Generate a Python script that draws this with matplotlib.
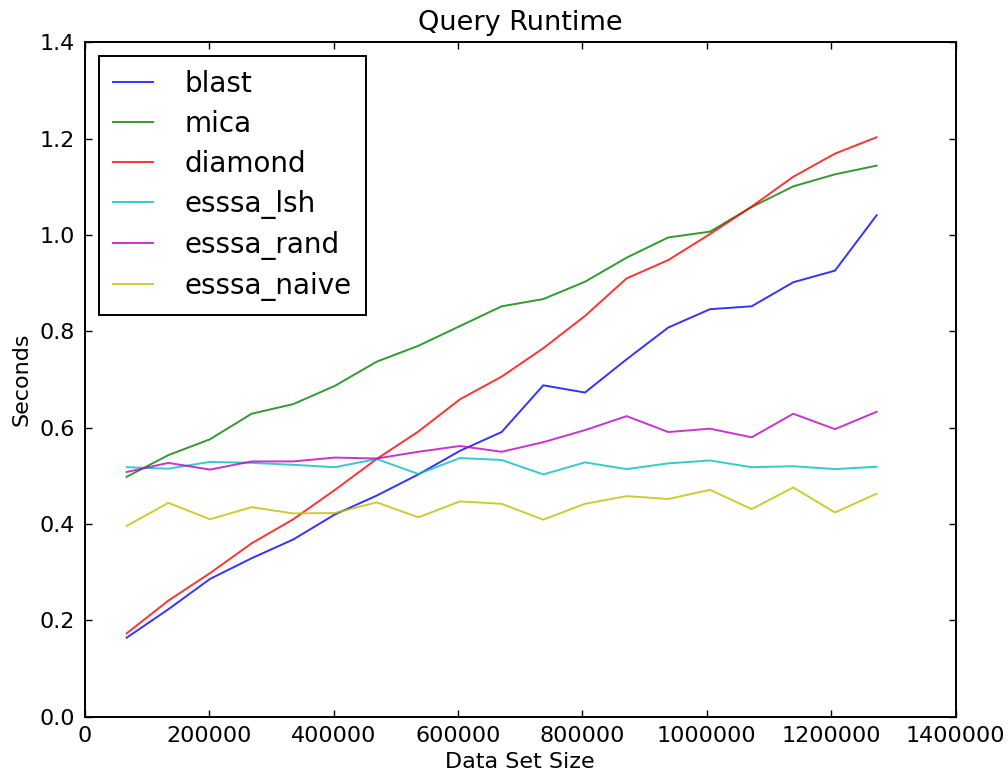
import numpy as np
import matplotlib
matplotlib.use('Agg')
import matplotlib.pyplot as plt

# data set sizes (step of 67000 records)
sizes = [67000, 134000, 201000, 268000, 335000, 402000, 469000, 536000, 603000, 670000,
         737000, 804000, 871000, 938000, 1005000, 1072000, 1139000, 1206000, 1273000]

blast = [0.164, 0.223, 0.286, 0.329, 0.368, 0.420, 0.459, 0.503, 0.552, 0.591,
         0.688, 0.673, 0.742, 0.808, 0.846, 0.852, 0.902, 0.926, 1.041]
mica = [0.498, 0.543, 0.576, 0.629, 0.649, 0.687, 0.737, 0.770, 0.811, 0.852,
        0.867, 0.903, 0.953, 0.995, 1.007, 1.058, 1.101, 1.126, 1.144]
diamond = [0.173, 0.241, 0.298, 0.360, 0.410, 0.471, 0.535, 0.592, 0.659, 0.706,
           0.765, 0.832, 0.910, 0.948, 1.002, 1.059, 1.121, 1.169, 1.203]
esssa_lsh = [0.518, 0.515, 0.529, 0.527, 0.523, 0.518, 0.535, 0.504, 0.537, 0.533,
             0.503, 0.528, 0.514, 0.526, 0.532, 0.518, 0.520, 0.514, 0.519]
esssa_rand = [0.508, 0.527, 0.513, 0.530, 0.530, 0.538, 0.536, 0.550, 0.562, 0.550,
              0.570, 0.595, 0.624, 0.591, 0.598, 0.580, 0.629, 0.597, 0.633]
esssa_naive = [0.396, 0.444, 0.410, 0.435, 0.422, 0.423, 0.445, 0.414, 0.447, 0.442,
               0.409, 0.442, 0.458, 0.452, 0.471, 0.431, 0.476, 0.424, 0.463]

series = [('blast', blast, 'b'), ('mica', mica, 'g'), ('diamond', diamond, 'r'),
          ('esssa_lsh', esssa_lsh, 'c'), ('esssa_rand', esssa_rand, 'm'),
          ('esssa_naive', esssa_naive, 'y')]
# classic color letters
colors = {'b': '#0000ff', 'g': '#008000', 'r': '#ff0000',
          'c': '#00bfbf', 'm': '#bf00bf', 'y': '#bfbf00'}

plt.rcParams['font.family'] = 'DejaVu Sans'

fig = plt.figure(figsize=(10.08, 7.74), dpi=100)
ax = fig.add_axes([0.0843, 0.074, 0.8637, 0.8713])

for name, vals, c in series:
    ax.plot(sizes, vals, color=colors[c], lw=1.4, alpha=0.8, label=name)

ax.set_xlim(0, 1400000)
ax.set_ylim(0, 1.4)
ax.set_xticks(np.arange(0, 1400001, 200000))
ax.set_yticks(np.arange(0, 1.41, 0.2))
ax.set_xticklabels([str(v) for v in range(0, 1400001, 200000)])
ax.set_yticklabels(['%.1f' % v for v in np.arange(0, 1.41, 0.2)])
ax.tick_params(direction='in', top=True, right=True, length=5, width=1,
               labelsize=16, pad=7)
for s in ax.spines.values():
    s.set_linewidth(1.4)

ax.set_title('Query Runtime', fontsize=19.5, pad=9)
ax.set_xlabel('Data Set Size', fontsize=16, labelpad=4)
ax.set_ylabel('Seconds', fontsize=16, labelpad=6)

leg = ax.legend(loc='upper left', fontsize=20, fancybox=False, framealpha=1,
                edgecolor='black', handlelength=1.45, handletextpad=1.15,
                borderpad=0.5, labelspacing=0.43, borderaxespad=0.5)
leg.get_frame().set_linewidth(1.4)

fig.savefig('out.png', dpi=100)
